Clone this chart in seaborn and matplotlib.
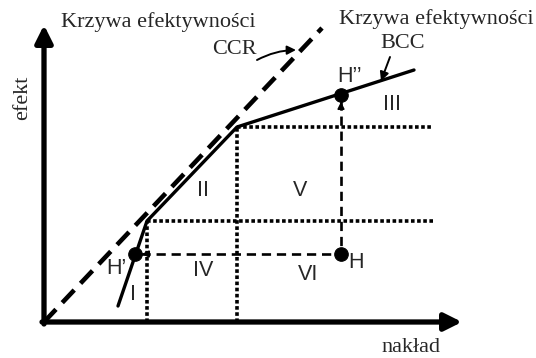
import numpy as np
import pandas as pd
import matplotlib
matplotlib.use('Agg')
import matplotlib.pyplot as plt
import seaborn as sns

# efficiency frontiers (nakład, efekt) in arbitrary units
ccr_x = [0, 278]
ccr_y = [0, 294]
bcc_x = [74, 103, 193, 370]
bcc_y = [16, 101, 195, 252]

# points
point_names = ['H’', 'H', 'H’’']
point_x = [91, 297, 297]
point_y = [68, 68, 227]

# region labels
region_names = ['I', 'II', 'III', 'IV', 'V', 'VI']
region_x = [89, 159, 348, 159, 256, 264]
region_y = [27, 132, 217, 52, 132, 47]

sns.set_style('white')
plt.rcParams['font.family'] = ['Liberation Serif', 'DejaVu Serif']

fig = plt.figure(figsize=(5.36, 3.58), dpi=100)
ax = fig.add_axes([0, 0, 1, 1])
ax.set_xlim(-44, 492)
ax.set_ylim(-36, 322)
ax.axis('off')

# dotted grid lines from kinks
k1x, k1y = bcc_x[1], bcc_y[1]
k2x, k2y = bcc_x[2], bcc_y[2]
dot = dict(color='black', lw=2.6, linestyle=(0, (1, 0.7)), zorder=2)
ax.plot([k1x, k1x], [0, k1y], **dot)
ax.plot([k2x, k2x], [0, k2y], **dot)
ax.plot([k1x, 389], [k1y, k1y], **dot)
ax.plot([k2x, 389], [k2y, k2y], **dot)

# dashed projections from H
hx, hy = point_x[1], point_y[1]
ax.plot([point_x[0] + 6, hx], [hy, hy], color='black', lw=1.9, linestyle=(0, (3.5, 2.2)), zorder=2)
ax.plot([hx, hx], [point_y[2] - 6, hy], color='black', lw=1.9, linestyle=(0, (3.5, 2.2)), zorder=2)
ax.annotate('', xy=(point_x[0] + 4, hy), xytext=(point_x[0] + 14, hy),
            arrowprops=dict(arrowstyle='-|>', color='black', lw=1.2, mutation_scale=10))
ax.annotate('', xy=(hx, point_y[2] - 4), xytext=(hx, point_y[2] - 14),
            arrowprops=dict(arrowstyle='-|>', color='black', lw=1.2, mutation_scale=10))

# frontiers
sns.lineplot(x=ccr_x, y=ccr_y, ax=ax, color='black', lw=3.3, linestyle=(0, (3.8, 2.0)), zorder=3)
sns.lineplot(x=bcc_x, y=bcc_y, ax=ax, color='black', lw=2.4, zorder=3, sort=False)

# points
sns.scatterplot(x=point_x, y=point_y, ax=ax, color='black', s=95, zorder=4, edgecolor='black')

# axes with arrows
ax.annotate('', xy=(418, 0), xytext=(-2, 0),
            arrowprops=dict(arrowstyle='-|>', color='black', lw=3.8, mutation_scale=26, shrinkA=0, shrinkB=0))
ax.annotate('', xy=(0, 297), xytext=(0, -2),
            arrowprops=dict(arrowstyle='-|>', color='black', lw=3.8, mutation_scale=26, shrinkA=0, shrinkB=0))

# region and point labels
sans = ['Liberation Sans', 'DejaVu Sans']
for name, x, y in zip(region_names, region_x, region_y):
    ax.text(x, y, name, family=sans, fontsize=15.5, ha='center', va='center')
label_x = [72, 312, 306]
label_y = [54, 60, 246]
for name, x, y in zip(point_names, label_x, label_y):
    ax.text(x, y, name, family=sans, fontsize=15.5, ha='center', va='center')

# titles of the curves
ax.text(114, 300, 'Krzywa efektywności', fontsize=16, ha='center', va='center')
ax.text(190, 273, 'CCR', fontsize=16, ha='center', va='center')
ax.text(392, 303, 'Krzywa efektywności', fontsize=16, ha='center', va='center')
ax.text(359, 278, 'BCC', fontsize=16, ha='center', va='center')
ax.annotate('', xy=(252, 272), xytext=(213, 262),
            arrowprops=dict(arrowstyle='-|>', color='black', lw=1.4, mutation_scale=13,
                            connectionstyle='arc3,rad=-0.12', shrinkA=0, shrinkB=0))
ax.annotate('', xy=(337, 241), xytext=(346, 265),
            arrowprops=dict(arrowstyle='-|>', color='black', lw=1.4, mutation_scale=13,
                            shrinkA=0, shrinkB=0))

# axis labels
ax.text(-21, 224, 'efekt', fontsize=16, rotation=90, ha='center', va='center')
ax.text(367, -25, 'nakład', fontsize=16, ha='center', va='center')

fig.savefig('out.png', dpi=100)
